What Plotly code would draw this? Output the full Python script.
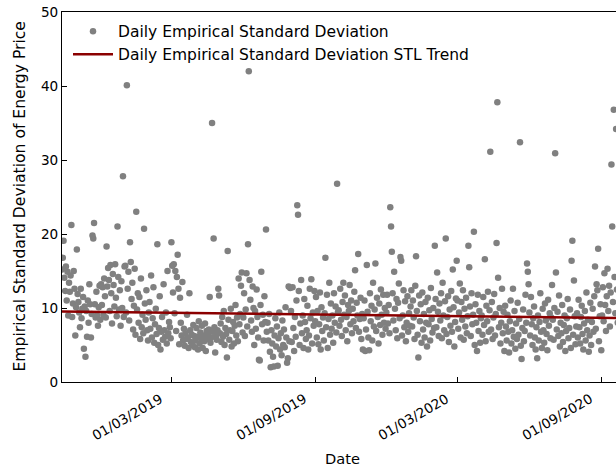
import pandas as pd
import plotly.graph_objects as go

# Daily empirical standard deviation of the energy price, one value per day
# starting 12/10/2018 (rows are calendar months).
std_2018 = [
    15.2, 16.8, 19.1, 14.1, 12.3, 15.6, 11.0, 14.9, 9.0, 13.4, 12.2, 14.4, 21.2, 8.8, 10.6, 15.0, 12.6, 6.3, 10.1, 17.9,
    11.9, 10.8, 9.4, 7.4, 12.6, 8.6, 9.9, 11.5, 4.5, 10.2, 3.4, 9.6, 6.1, 11.0, 8.0, 13.2, 10.5, 6.0, 9.2, 19.8, 19.4, 21.5, 10.5, 8.7, 12.2, 9.0, 7.6, 10.1, 13.0, 8.4,
    13.2, 10.4, 12.8, 9.1, 14.0, 11.6, 8.7, 18.3, 12.9, 15.4, 13.8, 9.6, 15.8, 12.0, 7.9, 14.6, 13.1, 10.2, 15.9, 11.4, 8.9, 21.0, 14.2, 9.8, 12.4, 7.6, 13.6, 10.0, 27.8, 8.8, 15.6,
]
std_2019 = [
    15.7, 9.4, 40.1, 12.6, 14.9, 8.3, 18.9, 16.2, 11.2, 13.4, 7.1, 10.3, 15.3, 6.4, 23.0, 9.8, 12.0, 8.0, 11.5, 5.8, 14.0, 7.4, 9.1, 6.6, 20.7, 10.6, 8.4, 12.4, 7.0, 5.6, 9.4,
    10.8, 7.2, 14.4, 6.0, 8.6, 12.8, 5.3, 7.8, 9.9, 6.5, 18.6, 5.0, 7.3, 11.6, 4.4, 6.8, 8.8, 5.7, 13.2, 7.0, 6.1, 9.4, 5.2, 15.0, 6.6, 8.1, 7.4, 5.9,
    18.9, 15.7, 12.1, 15.9, 9.3, 15.0, 6.9, 14.2, 17.2, 12.6, 5.1, 11.4, 8.0, 6.3, 13.5, 5.6, 7.2, 4.9, 6.6, 5.8, 9.1, 6.0, 4.6, 12.0, 7.0, 5.4, 6.4, 5.0, 7.7, 6.2, 4.7,
    5.6, 7.3, 6.1, 4.4, 8.2, 5.2, 6.7, 5.9, 7.6, 4.6, 6.3, 5.5, 7.9, 4.2, 6.9, 5.8, 6.4, 7.1, 11.5, 5.3, 6.0, 35.0, 6.8, 19.4, 7.4, 4.0, 6.2, 5.7, 7.0, 12.6,
    11.7, 6.6, 7.9, 5.4, 8.8, 6.1, 9.6, 5.0, 7.3, 6.5, 3.3, 17.7, 8.4, 5.7, 7.0, 9.9, 4.8, 6.9, 8.1, 5.2, 7.6, 10.4, 6.3, 8.7, 5.5, 14.0, 7.8, 9.2, 13.0, 14.8, 6.7,
    8.7, 12.0, 6.2, 9.8, 14.7, 7.5, 18.6, 42.0, 13.8, 11.1, 8.3, 6.8, 12.9, 10.0, 5.0, 9.6, 7.2, 12.5, 8.8, 6.0, 3.0, 2.9, 10.4, 14.9, 7.8, 9.1, 5.6, 11.6, 8.1, 20.6,
    6.8, 8.0, 5.6, 9.2, 4.1, 2.0, 7.0, 5.2, 3.4, 2.1, 6.3, 8.6, 4.8, 7.5, 2.2, 5.9, 9.4, 4.4, 6.6, 3.6, 8.3, 5.0, 7.1, 4.7, 10.1, 6.0, 2.6, 3.2, 12.9, 5.5, 12.7,
    9.6, 5.4, 12.8, 7.3, 4.2, 8.8, 6.1, 11.0, 23.9, 22.6, 12.3, 5.0, 7.9, 13.8, 6.6, 9.0, 4.6, 11.2, 8.1, 5.8, 7.0, 10.3, 4.4, 6.3, 12.6, 8.6, 13.9, 5.2, 9.4, 7.6, 12.3,
    8.2, 11.5, 6.0, 9.6, 5.1, 7.8, 12.1, 4.4, 10.1, 6.9, 8.7, 5.6, 9.3, 16.8, 7.4, 11.8, 4.6, 8.5, 13.4, 6.4, 10.6, 7.2, 9.0, 5.3, 12.0, 8.0, 10.2, 6.7, 26.8, 9.4,
    9.7, 7.6, 12.6, 8.4, 6.2, 10.8, 13.4, 9.1, 11.7, 7.0, 8.8, 5.5, 10.4, 9.6, 13.1, 7.8, 11.0, 6.6, 9.9, 8.2, 12.2, 15.1, 7.3, 10.7, 9.0, 17.3, 6.8, 8.5, 11.4, 5.8, 9.2,
    4.4, 8.6, 11.0, 4.2, 7.1, 15.8, 9.5, 6.0, 4.3, 12.0, 8.2, 10.3, 5.6, 13.4, 7.5, 9.8, 16.0, 6.9, 11.4, 8.8, 5.2, 10.6, 7.7, 12.5, 9.1, 6.4, 11.8, 8.0, 10.0, 7.2,
    9.4, 11.8, 7.9, 10.4, 6.6, 23.6, 21.0, 17.6, 12.0, 8.3, 14.9, 9.9, 7.0, 11.2, 5.9, 10.7, 13.3, 8.6, 16.9, 16.4, 6.3, 9.0, 12.4, 7.4, 10.9, 5.5, 8.0, 11.6, 6.8, 9.3, 7.6,
]
std_2020 = [
    10.2, 12.4, 7.5, 11.0, 8.7, 5.8, 13.0, 17.0, 9.6, 6.4, 3.3, 11.7, 8.2, 10.5, 5.3, 12.1, 7.1, 9.2, 6.0, 10.8, 8.0, 4.8, 11.4, 7.8, 9.7, 5.6, 12.7, 8.5, 6.7, 10.0, 7.3,
    18.4, 11.2, 7.4, 14.8, 9.5, 6.2, 10.6, 8.3, 12.0, 5.9, 13.4, 9.0, 7.0, 10.9, 19.4, 6.5, 8.8, 11.6, 5.4, 9.8, 7.6, 12.3, 6.8, 15.2, 10.1, 4.8, 8.1, 11.3, 16.4,
    11.0, 7.2, 9.4, 13.3, 6.0, 10.8, 8.4, 12.4, 5.7, 9.9, 7.5, 11.4, 6.6, 8.9, 18.4, 15.5, 10.2, 6.2, 12.0, 7.8, 9.1, 20.3, 5.0, 10.5, 8.0, 4.2, 11.8, 6.9, 9.6, 5.3, 8.6,
    9.0, 6.4, 11.5, 7.7, 16.6, 5.5, 10.3, 8.2, 12.2, 6.8, 9.7, 31.1, 7.1, 10.8, 5.8, 8.7, 11.9, 6.3, 9.2, 18.8, 37.8, 14.1, 7.4, 10.0, 5.2, 8.0, 12.6, 6.6, 9.5, 4.2,
    10.3, 7.5, 5.6, 9.1, 6.8, 4.0, 8.2, 11.0, 5.2, 7.0, 12.6, 6.1, 9.6, 4.5, 7.9, 5.8, 10.7, 6.4, 8.5, 32.4, 4.9, 3.1, 7.3, 9.8, 5.5, 6.9, 11.8, 8.0, 16.0, 14.9, 13.2,
    9.4, 6.3, 11.5, 7.8, 5.0, 8.6, 10.2, 6.0, 4.4, 7.4, 3.2, 9.0, 5.6, 8.1, 12.0, 6.8, 4.6, 9.9, 7.0, 5.3, 10.6, 8.3, 6.5, 4.3, 11.1, 7.6, 9.3, 5.9, 8.7, 13.1,
    8.4, 5.7, 10.0, 30.9, 14.8, 7.1, 9.5, 6.2, 11.7, 4.8, 8.0, 6.6, 10.4, 5.4, 7.7, 9.0, 4.2, 6.9, 8.6, 11.2, 5.9, 7.3, 9.8, 4.6, 16.4, 19.1, 6.4, 13.7, 8.9, 5.1, 7.5,
    9.3, 6.0, 11.1, 7.4, 5.2, 8.8, 10.3, 6.5, 4.4, 7.9, 9.6, 5.6, 12.1, 7.0, 8.4, 4.1, 6.3, 10.7, 5.0, 8.1, 9.9, 6.8, 11.6, 15.6, 7.2, 13.2, 12.4, 18.0, 5.5, 8.9, 10.5,
    4.3, 9.0, 12.8, 8.2, 14.7, 10.4, 6.9, 11.6, 15.3, 9.6, 13.0, 7.5, 12.1, 29.4, 21.0, 10.8, 36.8, 14.2, 9.3, 34.2, 12.5, 8.0,
]
start_date = "2018-10-12"

# STL trend component, sampled at a few dates
trend_dates = ["2018-10-12", "2019-01-01", "2019-04-01", "2019-07-01", "2019-10-01",
               "2020-01-01", "2020-04-01", "2020-07-01", "2020-09-22"]
trend_values = [9.52, 9.42, 9.31, 9.20, 9.08, 8.97, 8.86, 8.75, 8.64]

# Axis ticks
x_tick_dates = ["2019-03-01", "2019-09-01", "2020-03-01", "2020-09-01"]
x_tick_labels = ["01/03/2019", "01/09/2019", "01/03/2020", "01/09/2020"]
y_ticks = [0, 10, 20, 30, 40, 50]

values = std_2018 + std_2019 + std_2020
dates = pd.date_range(start_date, periods=len(values), freq="D")

FONT = "DejaVu Sans"
PLOT_W = 554  # plot-area width in px (616 - 62)
PLOT_H = 370  # plot-area height in px (471 - 12 - 89)

fig = go.Figure()
fig.add_trace(go.Scatter(
    x=dates, y=values, mode="markers",
    name="Daily Empirical Standard Deviation",
    marker=dict(color="#808080", size=6.5, line=dict(width=0)),
))
fig.add_trace(go.Scatter(
    x=pd.to_datetime(trend_dates), y=trend_values, mode="lines",
    name="Daily Empirical Standard Deviation STL Trend",
    line=dict(color="#8b0000", width=2.5),
))

# Rotated date labels, right-aligned just left of each tick
date_labels = [
    dict(text=lab, x=d, xref="x", y=-(416.5 - 381.7) / PLOT_H, yref="paper",
         xshift=-44.5, textangle=-30, xanchor="center", yanchor="middle",
         showarrow=False, font=dict(size=13.6))
    for d, lab in zip(x_tick_dates, x_tick_labels)
]

fig.update_layout(
    width=616, height=471,
    margin=dict(l=62, r=0, t=12, b=89),
    paper_bgcolor="white", plot_bgcolor="white",
    font=dict(family=FONT, color="black", size=14),
    showlegend=True,
    legend=dict(
        x=6 / PLOT_W, y=0.993, xanchor="left", yanchor="top",
        itemwidth=40,
        bgcolor="rgba(0,0,0,0)", font=dict(size=15.5, family=FONT),
    ),
    xaxis=dict(
        type="date",
        range=["2018-10-12", "2020-09-19 20:00"],
        tickmode="array", tickvals=x_tick_dates, ticktext=[""] * len(x_tick_dates),
        ticks="inside", ticklen=5, tickcolor="black", tickwidth=1,
        showline=True, linecolor="black", linewidth=1, mirror=True,
        showgrid=False, zeroline=False,
    ),
    yaxis=dict(
        range=[0, 50],
        tickmode="array", tickvals=y_ticks,
        tickfont=dict(size=13.6),
        ticks="inside", ticklen=5, tickcolor="black", tickwidth=1,
        showline=True, linecolor="black", linewidth=1,
        showgrid=False, zeroline=False,
    ),
    annotations=date_labels + [
        dict(text="Date", xref="paper", yref="paper",
             x=(342.5 - 62) / PLOT_W, y=-(458 - 381.7) / PLOT_H,
             xanchor="center", yanchor="middle", showarrow=False,
             font=dict(size=14.6)),
        dict(text="Empirical Standard Deviation of Energy Price",
             xref="paper", yref="paper",
             x=-(62 - 19.5) / PLOT_W, y=0.5, textangle=-90,
             xanchor="center", yanchor="middle", showarrow=False,
             font=dict(size=15.6)),
    ],
)

fig.write_html("out.html")
